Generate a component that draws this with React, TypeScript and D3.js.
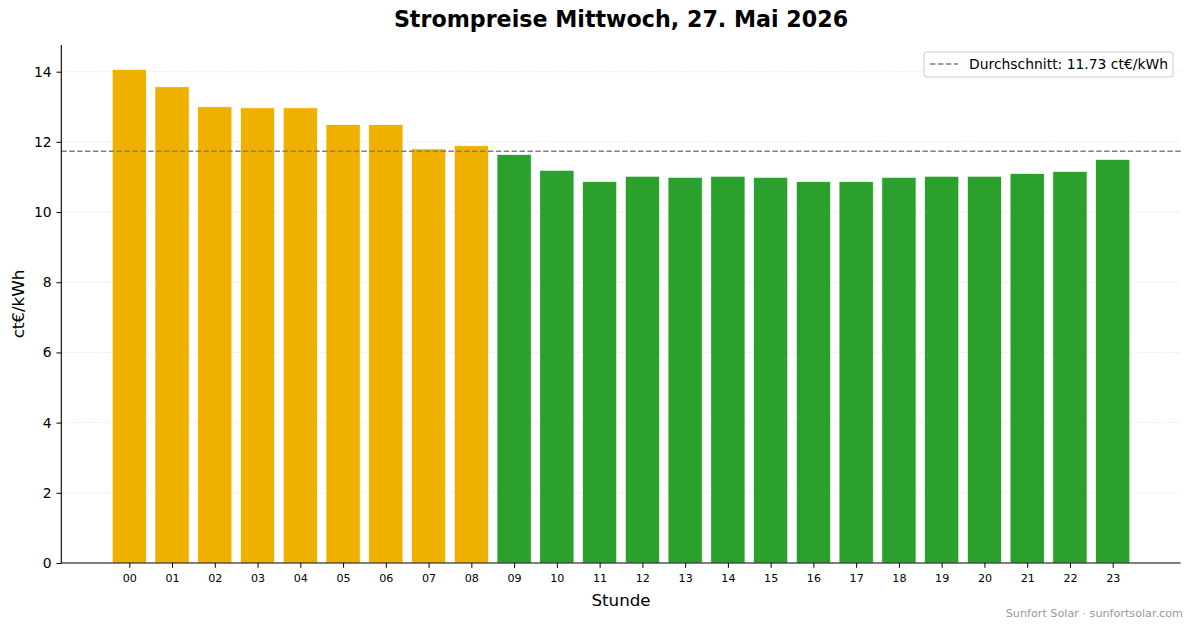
import React, { useEffect, useRef } from "react";
import * as d3 from "d3";

// Stunden 00..23 und Preise in ct/kWh
const hours = ["00", "01", "02", "03", "04", "05", "06", "07", "08", "09", "10", "11",
  "12", "13", "14", "15", "16", "17", "18", "19", "20", "21", "22", "23"];
const prices = [14.06, 13.57, 13.0, 12.97, 12.97, 12.49, 12.49, 11.8, 11.89, 11.64, 11.19, 10.87,
  11.02, 10.99, 11.02, 10.99, 10.87, 10.87, 10.99, 11.02, 11.02, 11.1, 11.16, 11.5];
const yTicks = [0, 2, 4, 6, 8, 10, 12, 14];
const average = 11.73;

const W = 1193;
const H = 628;
const FONT = "'DejaVu Sans', sans-serif";

const Chart: React.FC = () => {
  const ref = useRef<SVGSVGElement | null>(null);

  useEffect(() => {
    document.body.style.margin = "0";
    if (!ref.current) return;
    const svg = d3.select(ref.current);
    svg.selectAll("*").remove();

    const left = 61.3, right = 1180.7, top = 45, bottom = 563;

    const x = d3.scaleLinear().domain([-1.59, 24.59]).range([left, right]);
    const y = d3.scaleLinear().domain([0, 14.76]).range([bottom, top]);
    const bw = x(0.8) - x(0);

    // Gitterlinien
    svg.append("g")
      .selectAll("line")
      .data(yTicks.slice(1))
      .enter()
      .append("line")
      .attr("x1", left)
      .attr("x2", right)
      .attr("y1", (d) => y(d))
      .attr("y2", (d) => y(d))
      .attr("stroke", "#b0b0b0")
      .attr("stroke-opacity", 0.5)
      .attr("stroke-width", 0.8)
      .attr("stroke-dasharray", "0.8,1.32");

    // Balken
    svg.append("g")
      .selectAll("rect")
      .data(prices)
      .enter()
      .append("rect")
      .attr("x", (_, i) => x(i - 0.4))
      .attr("y", (d) => y(d))
      .attr("width", bw)
      .attr("height", (d) => y(0) - y(d))
      .attr("fill", (d) => (d > average ? "#f0b000" : "#2ca02c"))
      .attr("stroke", "white")
      .attr("stroke-width", 0.7);

    // Durchschnittslinie
    svg.append("line")
      .attr("x1", left)
      .attr("x2", right)
      .attr("y1", y(average))
      .attr("y2", y(average))
      .attr("stroke", "#808080")
      .attr("stroke-width", 1.5)
      .attr("stroke-dasharray", "5.5,2.4");

    // Achsen
    const xAxis = d3.axisBottom(x)
      .tickValues(d3.range(hours.length))
      .tickFormat((d) => hours[d as number])
      .tickSize(4.86)
      .tickSizeOuter(0)
      .tickPadding(6.5);
    const gx = svg.append("g").attr("transform", `translate(0,${bottom})`).call(xAxis);
    gx.select(".domain").remove();
    gx.selectAll("text").style("font-family", FONT).style("font-size", "11.1px").attr("fill", "#000");

    const yAxis = d3.axisLeft(y).tickValues(yTicks).tickSize(4.86).tickSizeOuter(0).tickPadding(4.86);
    const gy = svg.append("g").attr("transform", `translate(${left},0)`).call(yAxis);
    gy.select(".domain").remove();
    gy.selectAll("text").style("font-family", FONT).style("font-size", "13.9px").attr("fill", "#000");

    // Achsenlinien (links und unten)
    svg.append("path")
      .attr("d", `M${left},${top}V${bottom}H${right}`)
      .attr("fill", "none")
      .attr("stroke", "black")
      .attr("stroke-width", 1.1);

    // Titel und Beschriftungen
    svg.append("text")
      .attr("x", (left + right) / 2)
      .attr("y", 26.5)
      .attr("text-anchor", "middle")
      .style("font-family", FONT)
      .style("font-size", "22.2px")
      .style("font-weight", "bold")
      .text("Strompreise Mittwoch, 27. Mai 2026");

    svg.append("text")
      .attr("x", (left + right) / 2)
      .attr("y", 606)
      .attr("text-anchor", "middle")
      .style("font-family", FONT)
      .style("font-size", "16.7px")
      .text("Stunde");

    svg.append("text")
      .attr("transform", `translate(24,${(top + bottom) / 2}) rotate(-90)`)
      .attr("text-anchor", "middle")
      .style("font-family", FONT)
      .style("font-size", "16.7px")
      .text("ct€/kWh");

    // Legende
    const lg = svg.append("g").attr("transform", "translate(924,52)");
    lg.append("rect")
      .attr("width", 249)
      .attr("height", 25)
      .attr("rx", 3)
      .attr("fill", "white")
      .attr("fill-opacity", 0.8)
      .attr("stroke", "#cccccc");
    lg.append("line")
      .attr("x1", 6)
      .attr("x2", 34)
      .attr("y1", 12)
      .attr("y2", 12)
      .attr("stroke", "#808080")
      .attr("stroke-width", 1.5)
      .attr("stroke-dasharray", "5.5,2.4");
    lg.append("text")
      .attr("x", 45)
      .attr("y", 17)
      .style("font-family", FONT)
      .style("font-size", "13.9px")
      .text(`Durchschnitt: ${average.toFixed(2)} ct€/kWh`);

    // Fußzeile
    svg.append("text")
      .attr("x", 1183)
      .attr("y", 617)
      .attr("text-anchor", "end")
      .attr("fill", "#999999")
      .style("font-family", FONT)
      .style("font-size", "11.2px")
      .text("Sunfort Solar · sunfortsolar.com");
  }, []);

  return <svg ref={ref} width={W} height={H} style={{ display: "block", background: "white" }} />;
};

export default function App() {
  return <Chart />;
}
